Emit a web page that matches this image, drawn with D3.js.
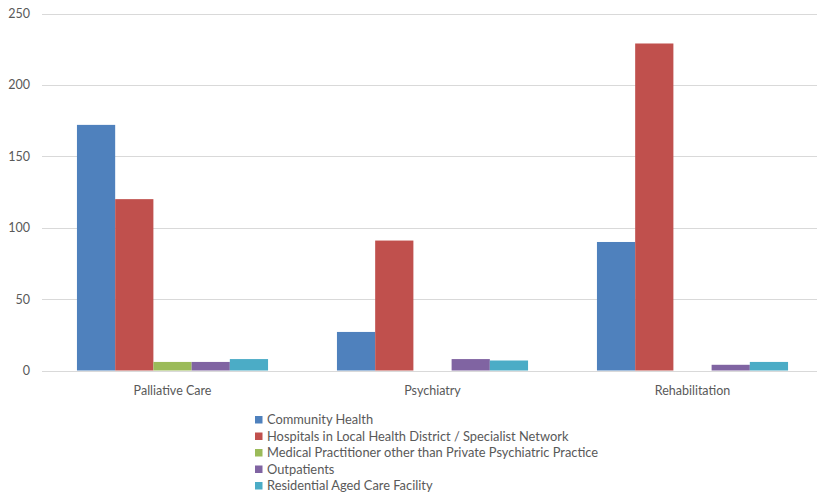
<!DOCTYPE html>
<html lang="en">
<head><meta charset="utf-8"/>
<style>
body { margin: 0; background: #fff; }
text { font-family: Lato, "Open Sans", sans-serif; fill: #595959; }
.grid line { stroke: #d9d9d9; stroke-width: 1px; }
</style>
</head>
<body>
<svg id="chart" width="817" height="493"></svg>
<script src="https://cdn.jsdelivr.net/npm/d3@7/dist/d3.min.js"></script>
<script>

var categories = ["Palliative Care", "Psychiatry", "Rehabilitation"];
var seriesNames = ["Community Health",
	"Hospitals in Local Health District / Specialist Network",
	"Medical Practitioner other than Private Psychiatric Practice",
	"Outpatients",
	"Residential Aged Care Facility"];
var colors = ["#4f81bd", "#c0504d", "#9bbb59", "#8064a2", "#4bacc6"];

// one array per series, in category order
var communityHealth = [172, 27, 90];
var hospitals = [120, 91, 229];
var medicalPractitioner = [6, 0, 0];
var outpatients = [6, 8, 4];
var residentialAged = [8, 7, 6];
var yTicks = [0, 50, 100, 150, 200, 250];

var values = [communityHealth, hospitals, medicalPractitioner, outpatients, residentialAged];

var svg = d3.select("#chart");

var x0 = d3.scaleBand().domain(categories).range([42.5, 822.5])
	.paddingInner(0.265).paddingOuter(0.1325);
var x1 = d3.scaleBand().domain(d3.range(seriesNames.length)).range([0, x0.bandwidth()]);
var y = d3.scaleLinear().domain([0, 250]).range([370.5, 13.5]);

// gridlines
var grid = svg.append("g").attr("class", "grid");
grid.selectAll("line").data(yTicks).enter().append("line")
	.attr("x1", 42).attr("x2", 817)
	.attr("y1", d => Math.round(y(d)) + 0.5).attr("y2", d => Math.round(y(d)) + 0.5);

// y axis labels
svg.append("g").selectAll("text").data(yTicks).enter().append("text")
	.attr("x", 30).attr("y", d => y(d) + 4.5)
	.attr("text-anchor", "end").style("font-size", "12.5px")
	.text(d => d);

// bars
var groups = svg.append("g").selectAll("g").data(categories).enter().append("g")
	.attr("transform", d => "translate(" + x0(d) + ",0)");
groups.selectAll("rect")
	.data((c, ci) => values.map((s, si) => ({si: si, v: s[ci]})))
	.enter().append("rect")
	.attr("x", d => x1(d.si))
	.attr("width", x1.bandwidth())
	.attr("y", d => y(d.v))
	.attr("height", d => y(0) - y(d.v))
	.attr("fill", d => colors[d.si]);

// category labels
svg.append("g").selectAll("text").data(categories).enter().append("text")
	.attr("x", d => x0(d) + x0.bandwidth() / 2).attr("y", 395)
	.attr("text-anchor", "middle").style("font-size", "12.5px")
	.text(d => d);

// legend
var legend = svg.append("g").selectAll("g").data(seriesNames).enter().append("g")
	.attr("transform", (d, i) => "translate(255," + (416 + i * 16.5) + ")");
legend.append("rect").attr("width", 7.5).attr("height", 7.5)
	.attr("fill", (d, i) => colors[i]);
legend.append("text").attr("x", 12).attr("y", 8)
	.style("font-size", "12.85px").text(d => d);

</script>
</body>
</html>
